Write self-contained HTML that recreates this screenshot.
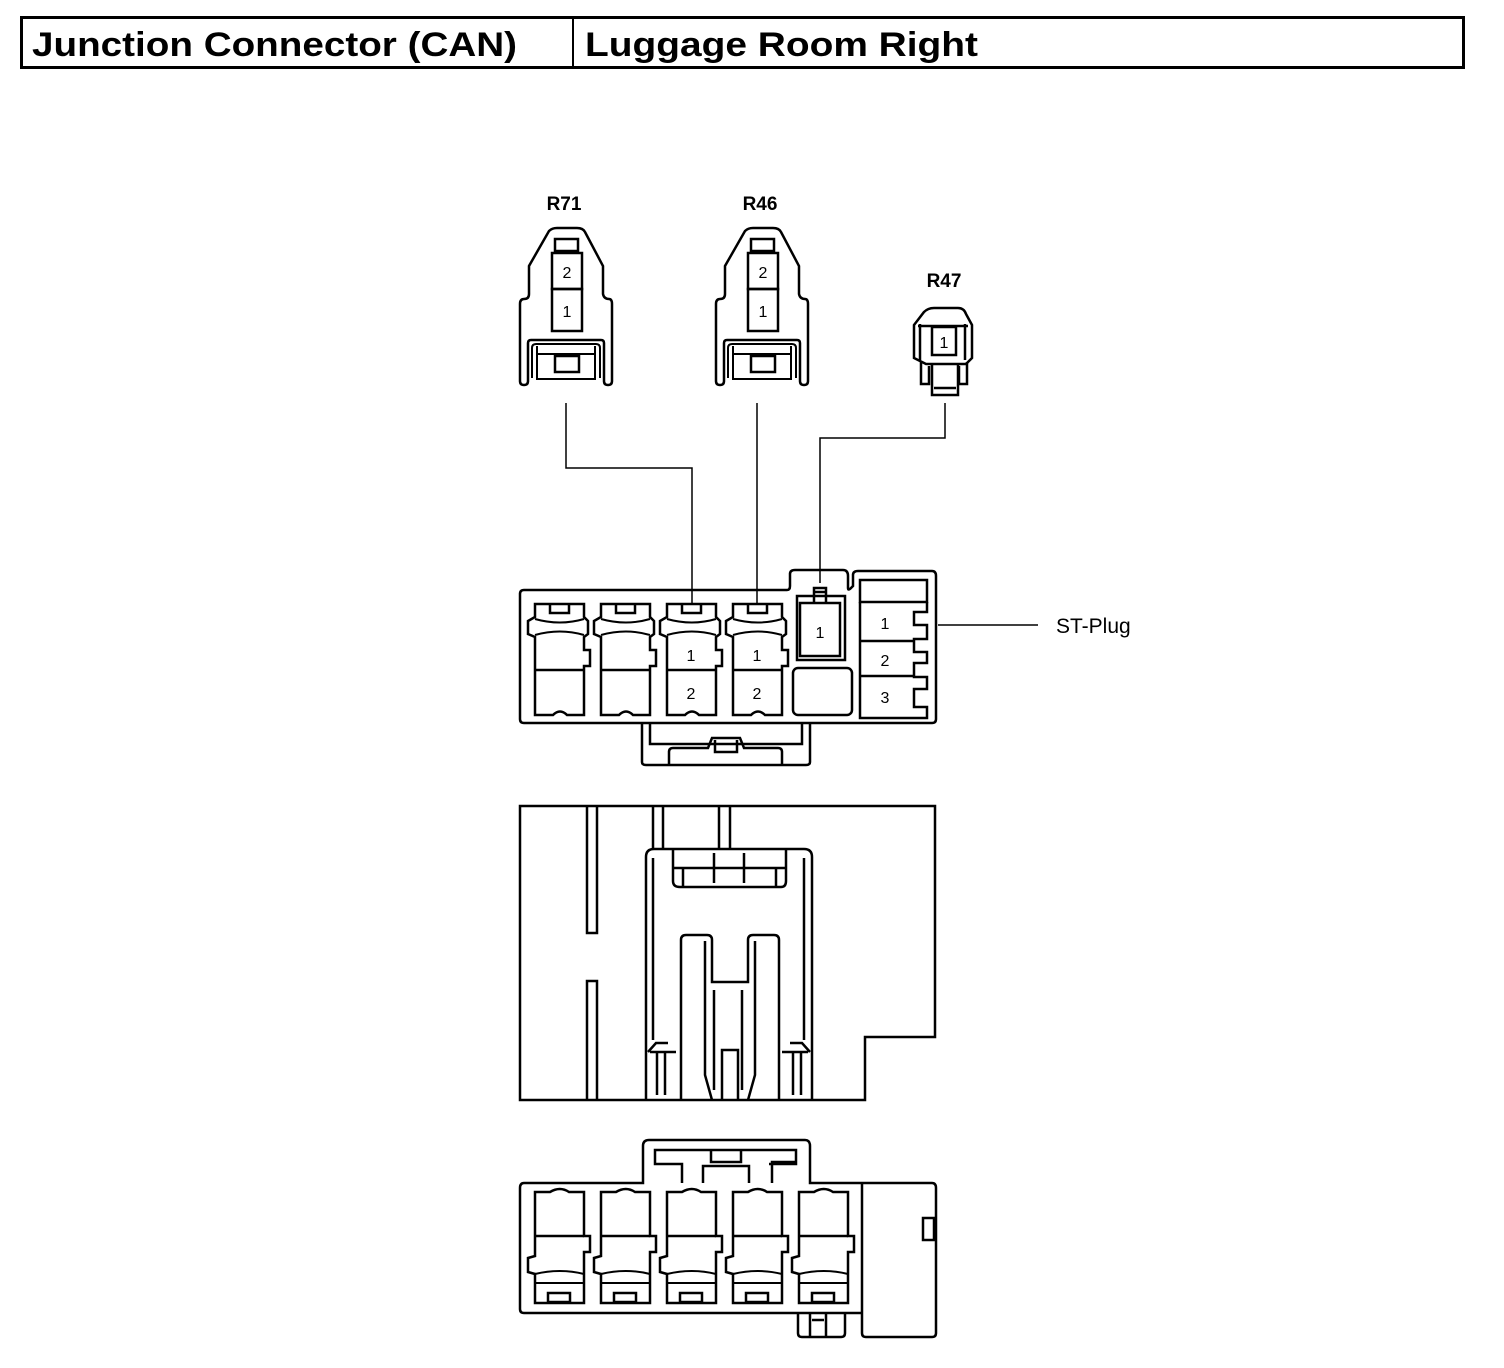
<!DOCTYPE html>
<html><head><meta charset="utf-8"><style>
html,body{margin:0;padding:0;background:#fff;}
svg{display:block;}
text{font-family:"Liberation Sans",sans-serif;fill:#000;}
</style></head><body>
<svg width="1504" height="1368" viewBox="0 0 1504 1368" xmlns="http://www.w3.org/2000/svg">
<defs>
<g id="cav">
 <path d="M0,0 H49 V13 L53,17 V30 L49,33 V46 H55 V62 H49 V111 H32 Q25,104 18,111 H0 V33 L-7,30 V17 L0,13 Z" fill="none" stroke="#000" stroke-width="2.5"/>
 <path d="M15,0 V9 H34 V0" fill="none" stroke="#000" stroke-width="2.5"/>
 <path d="M0,15 Q25,22 49,15 M0,31 Q25,24 49,31" fill="none" stroke="#000" stroke-width="2"/>
 <line x1="0" y1="66" x2="49" y2="66" stroke="#000" stroke-width="2.5"/>
</g>
<g id="bcav">
 <path d="M0,0 H15 Q25,-6 34,0 H49 V44 H55 V60 H49 V111 H0 V82 L-7,80 V66 L0,64 Z" fill="none" stroke="#000" stroke-width="2.5"/>
 <line x1="0" y1="44" x2="49" y2="44" stroke="#000" stroke-width="2.5"/>
 <path d="M0,82 Q25,76 49,82 M0,91 H49" fill="none" stroke="#000" stroke-width="2"/>
 <rect x="13" y="101" width="22" height="9" fill="none" stroke="#000" stroke-width="2.5"/>
</g>
<g id="twopin">
 <path d="M30,3 Q33,0 38,0 H58 Q64,0 66,4 L84,38 V66 Q85,71 90,71 Q93,71 93,76 V153 Q93,157 89,157 Q85,157 85,153 V115 Q85,112 82,112 H12 Q9,112 9,115 V153 Q9,157 5,157 Q1,157 1,153 V76 Q1,71 5,71 Q10,71 10,66 V38 Z" fill="none" stroke="#000" stroke-width="2.5"/>
 <rect x="36" y="11" width="23" height="12" fill="none" stroke="#000" stroke-width="2.5"/>
 <rect x="33" y="25" width="30" height="36" fill="none" stroke="#000" stroke-width="2.5"/>
 <rect x="33" y="61" width="30" height="42" fill="none" stroke="#000" stroke-width="2.5"/>
 <path d="M13,150 V120 Q13,116 17,116 H77 Q81,116 81,120 V150 M18,126 H76 M18,118 V151 H76 V118" fill="none" stroke="#000" stroke-width="2"/>
 <rect x="36" y="128" width="24" height="16" fill="none" stroke="#000" stroke-width="2.5"/>
</g>
</defs>

<!-- header -->
<rect x="21.5" y="17.5" width="1442" height="50" fill="none" stroke="#000" stroke-width="3"/>
<line x1="573" y1="17" x2="573" y2="67" stroke="#000" stroke-width="2"/>
<text x="32" y="56" font-size="34" font-weight="bold" textLength="485" lengthAdjust="spacingAndGlyphs">Junction Connector (CAN)</text>
<text x="585" y="56" font-size="34" font-weight="bold" textLength="393" lengthAdjust="spacingAndGlyphs">Luggage Room Right</text>

<!-- R71 / R46 -->
<text x="564" y="210" font-size="19" font-weight="bold" text-anchor="middle">R71</text>
<text x="760" y="210" font-size="19" font-weight="bold" text-anchor="middle">R46</text>
<g transform="translate(519,228)"><use href="#twopin"/>
 <text x="48" y="50" font-size="16" text-anchor="middle">2</text><text x="48" y="89" font-size="16" text-anchor="middle">1</text></g>
<g transform="translate(715,228)"><use href="#twopin"/>
 <text x="48" y="50" font-size="16" text-anchor="middle">2</text><text x="48" y="89" font-size="16" text-anchor="middle">1</text></g>

<!-- R47 -->
<text x="944" y="287" font-size="19" font-weight="bold" text-anchor="middle">R47</text>
<g fill="none" stroke="#000" stroke-width="2.5">
 <path d="M924,312 Q928,308 934,308 H958 Q964,308 966,314 L972,325 V358 L966,364 H926 L914,358 V325 Z"/>
 <path d="M918,326 H968 M920,324 V360 M965,324 V360"/>
 <rect x="932" y="327" width="24" height="28"/>
 <path d="M921,362 V384 H929 V366 M959,366 V384 H967 V362"/>
 <path d="M932,364 V395 H958 V364 M934,388 H956"/>
</g>
<text x="944" y="348" font-size="16" text-anchor="middle">1</text>

<!-- wires -->
<g fill="none" stroke="#000" stroke-width="1.5">
 <path d="M566,403 V468 H692 V604"/>
 <path d="M757,403 V604"/>
 <path d="M945,403 V438 H820 V583"/>
 <path d="M938,625 H1038"/>
</g>
<text x="1056" y="633" font-size="21">ST-Plug</text>

<!-- top block -->
<g fill="none" stroke="#000" stroke-width="2.5">
 <path d="M524,590 H787 Q790,590 790,586 V574 Q790,570 795,570 H843 Q848,570 848,576 V588 Q848,591 851,588 L853,586 V575 Q853,571 858,571 H932 Q936,571 936,576 V719 Q936,723 932,723 H524 Q520,723 520,719 V594 Q520,590 524,590 Z"/>
 <path d="M642,723 V762 Q642,765 646,765 H806 Q810,765 810,762 V723 M650,723 V744 H802 V723"/>
 <path d="M669,765 V752 Q669,748 673,748 H708 L712,738 H740 L744,748 H778 Q782,748 782,752 V765 M715,740 V752 H737 V740"/>
 <path d="M797,596 H845 V660 H797 Z"/>
 <rect x="800" y="603" width="40" height="53"/>
 <path d="M814,603 V588 H826 V603 M814,592 H826"/>
 <rect x="793" y="668" width="59" height="47" rx="5"/>
 <path d="M860,580 H927 V602 H860 Z"/>
 <path d="M860,602 V718 H927 V707 H914 V689 H927 V677 H914 V663 H927 V652 H914 V639 H927 V625 H914 V612 H927 V602"/>
 <path d="M860,641 H914 M860,676 H914"/>
</g>
<use href="#cav" x="535" y="604"/>
<use href="#cav" x="601" y="604"/>
<use href="#cav" x="667" y="604"/>
<use href="#cav" x="733" y="604"/>
<text x="691" y="661" font-size="16" text-anchor="middle">1</text>
<text x="691" y="699" font-size="16" text-anchor="middle">2</text>
<text x="757" y="661" font-size="16" text-anchor="middle">1</text>
<text x="757" y="699" font-size="16" text-anchor="middle">2</text>
<text x="820" y="638" font-size="16" text-anchor="middle">1</text>
<text x="885" y="629" font-size="16" text-anchor="middle">1</text>
<text x="885" y="666" font-size="16" text-anchor="middle">2</text>
<text x="885" y="703" font-size="16" text-anchor="middle">3</text>

<!-- middle block -->
<g fill="none" stroke="#000" stroke-width="2.5">
 <path d="M520,806 H935 V1037 H865 V1100 H520 Z"/>
 <path d="M587,806 V933 H597 V806 M587,1100 V981 H597 V1100"/>
 <path d="M653,806 V848 M663,806 V848 M719,806 V848 M730,806 V848"/>
 <path d="M646,1100 V857 Q646,849 654,849 H804 Q812,849 812,857 V1100"/>
 <path d="M673,850 V881 Q673,887 680,887 H781 Q786,887 786,881 V850 M673,868 H786 M683,868 V887 M776,868 V887 M714,853 V883 M744,853 V883"/>
 <path d="M653,858 V1040 M804,858 V1040"/>
 <path d="M681,1100 V940 Q681,935 686,935 H707 Q712,935 712,940 V982 H748 V940 Q748,935 753,935 H774 Q779,935 779,940 V1100"/>
 <path d="M705,941 V1075 L712,1100 M755,941 V1075 L748,1100 M714,990 V1090 M742,990 V1090"/>
 <path d="M722,1100 V1050 H738 V1100"/>
 <path d="M648,1052 L656,1043 H668 M650,1052 H676 M657,1052 V1095 M665,1052 V1095"/>
 <path d="M810,1052 L802,1043 H790 M808,1052 H782 M801,1052 V1095 M793,1052 V1095"/>
</g>

<!-- bottom block -->
<g fill="none" stroke="#000" stroke-width="2.5">
 <path d="M524,1183 H643 V1146 Q643,1140 649,1140 H805 Q810,1140 810,1146 V1183 H932 Q936,1183 936,1188 V1333 Q936,1337 932,1337 H866 Q862,1337 862,1333 V1313 H798 V1333 Q798,1337 802,1337 H841 Q845,1337 845,1333 V1313 M862,1313 V1183 M524,1183 Q520,1183 520,1188 V1309 Q520,1313 524,1313 H798"/>
 <path d="M655,1162 V1150 H796 V1162 H772 V1183 M655,1162 V1150 M655,1150 V1164 H682 V1183 M769,1164 H796 V1150 M703,1183 V1166 H749 V1183 M711,1150 V1162 H741 V1150"/>
 <path d="M810,1313 V1337 M826,1313 V1337 M812,1320 H824"/>
 <rect x="923" y="1218" width="11" height="22"/>
</g>
<use href="#bcav" x="535" y="1192"/>
<use href="#bcav" x="601" y="1192"/>
<use href="#bcav" x="667" y="1192"/>
<use href="#bcav" x="733" y="1192"/>
<use href="#bcav" x="799" y="1192"/>
</svg>
</body></html>
